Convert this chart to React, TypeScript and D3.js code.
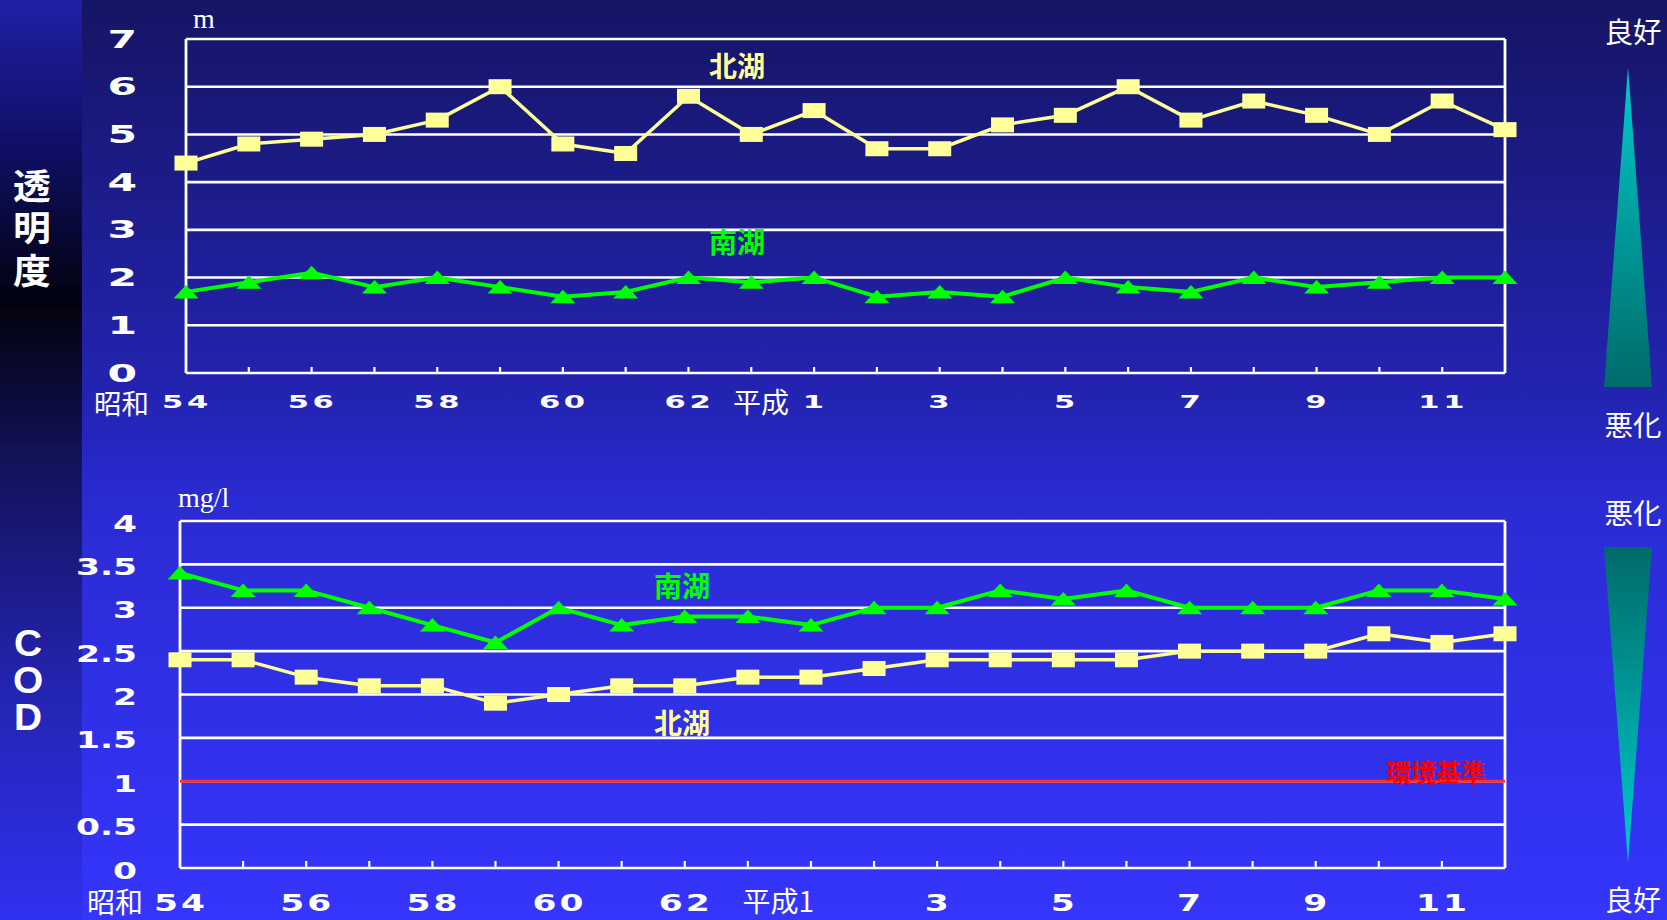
import React from "react";
import * as d3 from "d3";

// ---- data ----
const categories = [
  "S54", "S55", "S56", "S57", "S58", "S59", "S60", "S61", "S62", "S63",
  "H1", "H2", "H3", "H4", "H5", "H6", "H7", "H8", "H9", "H10", "H11", "H12",
];
const tickLabels = [
  "54", "", "56", "", "58", "", "60", "", "62", "", "1", "", "3", "", "5", "", "7", "", "9", "", "11", "",
];
const eraLabels = ["昭和", "平成"];
const transparencyNorth = [4.4, 4.8, 4.9, 5.0, 5.3, 6.0, 4.8, 4.6, 5.8, 5.0, 5.5, 4.7, 4.7, 5.2, 5.4, 6.0, 5.3, 5.7, 5.4, 5.0, 5.7, 5.1];
const transparencySouth = [1.7, 1.9, 2.1, 1.8, 2.0, 1.8, 1.6, 1.7, 2.0, 1.9, 2.0, 1.6, 1.7, 1.6, 2.0, 1.8, 1.7, 2.0, 1.8, 1.9, 2.0, 2.0];
const codSouth = [3.4, 3.2, 3.2, 3.0, 2.8, 2.6, 3.0, 2.8, 2.9, 2.9, 2.8, 3.0, 3.0, 3.2, 3.1, 3.2, 3.0, 3.0, 3.0, 3.2, 3.2, 3.1];
const codNorth = [2.4, 2.4, 2.2, 2.1, 2.1, 1.9, 2.0, 2.1, 2.1, 2.2, 2.2, 2.3, 2.4, 2.4, 2.4, 2.4, 2.5, 2.5, 2.5, 2.7, 2.6, 2.7];
const transparencyTicks = [0, 1, 2, 3, 4, 5, 6, 7];
const codTicks = [0, 0.5, 1, 1.5, 2, 2.5, 3, 3.5, 4];
const codStandard = [1];

function WText(props: {
  x: number; y: number; sx: number; anchor?: string; size: number; fill?: string;
  weight?: string | number; family?: string; ls?: number; children: React.ReactNode;
}) {
  const digitFont = "'DejaVu Sans', 'Liberation Sans', sans-serif";
  const { x, y, sx, anchor = "middle", size, fill = "#ffffff", weight = "bold", family = digitFont, ls = 0 } = props;
  return (
    <text
      transform={`translate(${x},${y}) scale(${sx},1)`}
      textAnchor={anchor}
      fontSize={size}
      fill={fill}
      fontWeight={weight}
      fontFamily={family}
      letterSpacing={ls}
    >
      {props.children}
    </text>
  );
}

function VText(props: { x: number; y: number; text: string; ls: number; size: number; family: string; sx: number }) {
  const { x, y, text, ls, size, family, sx } = props;
  return (
    <text
      transform={`translate(${x},${y}) scale(${sx},1)`}
      x={0}
      y={0}
      fontSize={size}
      fill="#ffffff"
      fontWeight="bold"
      fontFamily={family}
      letterSpacing={ls}
      style={{ writingMode: "vertical-rl", textOrientation: "upright" } as React.CSSProperties}
    >
      {text}
    </text>
  );
}

function Panel(props: {
  x: d3.ScalePoint<string>;
  y: d3.ScaleLinear<number, number>;
  ticks: number[];
  north: number[];
  south: number[];
  tickLen: number;
  standard?: number;
}) {
  const yellow = "#ffff99";
  const green = "#00ff00";
  const { x, y, ticks, north, south, tickLen, standard } = props;
  const [x0, x1] = x.range();
  const [yb, yt] = y.range();
  const line = d3
    .line<number>()
    .x((_, i) => x(categories[i]) as number)
    .y((d) => y(d));
  return (
    <g>
      {ticks.map((t) => (
        <line key={t} x1={x0} x2={x1} y1={y(t)} y2={y(t)} stroke="#ffffff" strokeWidth={2.6} />
      ))}
      <line x1={x0} x2={x0} y1={yt} y2={yb} stroke="#ffffff" strokeWidth={2.8} />
      <line x1={x1} x2={x1} y1={yt} y2={yb} stroke="#ffffff" strokeWidth={2.8} />
      {categories.map((c, i) =>
        i > 0 && i < categories.length - 1 ? (
          <line key={c} x1={x(c)} x2={x(c)} y1={yb} y2={yb - tickLen} stroke="#ffffff" strokeWidth={2.2} />
        ) : null
      )}
      {standard !== undefined && (
        <line x1={x0} x2={x1} y1={y(standard)} y2={y(standard)} stroke="#f03535" strokeWidth={3} />
      )}
      <path d={line(north) || ""} fill="none" stroke={yellow} strokeWidth={3.5} strokeLinejoin="round" />
      <path d={line(south) || ""} fill="none" stroke={green} strokeWidth={4} strokeLinejoin="round" />
      {north.map((v, i) => (
        <rect
          key={"n" + i}
          x={(x(categories[i]) as number) - 11.5}
          y={y(v) - 7.5}
          width={23}
          height={15}
          fill={yellow}
        />
      ))}
      {south.map((v, i) => {
        const cx = x(categories[i]) as number;
        const cy = y(v);
        return (
          <path
            key={"s" + i}
            d={`M${cx},${cy - 7} L${cx + 12.5},${cy + 6.5} L${cx - 12.5},${cy + 6.5} Z`}
            fill={green}
          />
        );
      })}
    </g>
  );
}

export default function App() {
  const width = 1667;
  const height = 920;
  const yellow = "#ffff99";
  const green = "#00ff00";
  const cjk = "'Noto Sans CJK JP', 'Noto Sans CJK SC', sans-serif";
  const serif = "'Liberation Serif', 'DejaVu Serif', serif";

  const xTop = d3.scalePoint<string>().domain(categories).range([186, 1505]);
  const yTop = d3.scaleLinear().domain([0, 7]).range([373, 39]);
  const xBot = d3.scalePoint<string>().domain(categories).range([180, 1505]);
  const yBot = d3.scaleLinear().domain([0, 4]).range([868, 521]);
  const std = codStandard[0];
  const heiseiIndex = 10;

  return (
    <svg
      width={width}
      height={height}
      style={{ position: "absolute", left: 0, top: 0, display: "block" }}
    >
      <defs>
        <linearGradient id="bg" x1="0" y1="0" x2="0" y2="1">
          <stop offset="0" stopColor="#151565" />
          <stop offset="0.45" stopColor="#2424b6" />
          <stop offset="0.55" stopColor="#2b2bd4" />
          <stop offset="1" stopColor="#3535fc" />
        </linearGradient>
        <linearGradient id="strip" x1="0" y1="0" x2="0" y2="1">
          <stop offset="0" stopColor="#2020a6" />
          <stop offset="0.15" stopColor="#10106a" />
          <stop offset="0.33" stopColor="#02020e" />
          <stop offset="0.5" stopColor="#12125a" />
          <stop offset="0.75" stopColor="#2424b2" />
          <stop offset="1" stopColor="#3030f0" />
        </linearGradient>
        <linearGradient id="triUp" x1="0" y1="0" x2="0" y2="1">
          <stop offset="0" stopColor="#00cccc" />
          <stop offset="0.45" stopColor="#00a0a0" />
          <stop offset="1" stopColor="#006a6a" />
        </linearGradient>
        <linearGradient id="triDown" x1="0" y1="0" x2="0" y2="1">
          <stop offset="0" stopColor="#006a6a" />
          <stop offset="0.55" stopColor="#00a0a0" />
          <stop offset="1" stopColor="#00cccc" />
        </linearGradient>
      </defs>
      <rect x={0} y={0} width={width} height={height} fill="url(#bg)" />
      <rect x={0} y={0} width={82} height={height} fill="url(#strip)" />

      {/* left titles */}
      <VText x={32} y={168} text="透明度" ls={7.5} size={35} family={cjk} sx={1.08} />
      <VText x={28} y={623} text="COD" ls={-4} size={37} family="'Liberation Sans', Arial, sans-serif" sx={1.05} />

      {/* top panel */}
      <Panel x={xTop} y={yTop} ticks={transparencyTicks} north={transparencyNorth} south={transparencySouth} tickLen={6} />
      {transparencyTicks.map((t) => (
        <WText key={t} x={137} y={yTop(t) + 8.5} sx={1.7} anchor="end" size={25}>
          {String(t)}
        </WText>
      ))}
      {tickLabels.map((l, i) =>
        l ? (
          <WText key={i} x={(xTop(categories[i]) as number) + 1} y={407.5} sx={1.8} size={17} ls={2}>
            {l}
          </WText>
        ) : null
      )}
      <WText x={149} y={414} sx={1} anchor="end" size={27.5} weight="normal" family={cjk}>{eraLabels[0]}</WText>
      <WText x={789} y={413} sx={1} anchor="end" size={28} weight="normal" family={cjk}>{eraLabels[1]}</WText>
      <text x={193} y={28} fontSize={28} fill="#ffffff" fontFamily={serif}>m</text>
      <WText x={737} y={76.5} sx={1} size={28} fill={yellow} family={cjk}>北湖</WText>
      <WText x={737} y={252.5} sx={1} size={28} fill={green} family={cjk}>南湖</WText>

      {/* bottom panel */}
      <Panel x={xBot} y={yBot} ticks={codTicks} north={codNorth} south={codSouth} tickLen={7} standard={std} />
      {codTicks.map((t) => (
        <WText key={t} x={137} y={yBot(t) + 10.5} sx={1.5} anchor="end" size={23}>
          {String(t)}
        </WText>
      ))}
      {tickLabels.map((l, i) =>
        l && i !== heiseiIndex ? (
          <WText key={i} x={(xBot(categories[i]) as number) + 1} y={911} sx={1.5} size={23} ls={2}>
            {l}
          </WText>
        ) : null
      )}
      <WText x={143} y={913} sx={1} anchor="end" size={28} weight="normal" family={cjk}>{eraLabels[0]}</WText>
      <WText
        x={(xBot(categories[heiseiIndex]) as number) + 3}
        y={912}
        sx={1}
        anchor="end"
        size={28}
        weight="normal"
        family={cjk}
      >
        {eraLabels[1] + tickLabels[heiseiIndex]}
      </WText>
      <text x={178} y={507} fontSize={28} fill="#ffffff" fontFamily={serif}>mg/l</text>
      <WText x={682} y={596.5} sx={1} size={28} fill={green} family={cjk}>南湖</WText>
      <WText x={682} y={733.5} sx={1} size={28} fill={yellow} family={cjk}>北湖</WText>
      <WText x={1486} y={yBot(std) + 1} sx={1} anchor="end" size={25} fill="#ff0000" family={cjk}>環境基準</WText>

      {/* right-hand indicators */}
      <WText x={1633} y={43} sx={1} size={28.5} weight="normal" family={cjk}>良好</WText>
      <path d="M1628,67 L1652,387 L1604,387 Z" fill="url(#triUp)" />
      <WText x={1633} y={436} sx={1} size={28.5} weight="normal" family={cjk}>悪化</WText>
      <WText x={1633} y={524} sx={1} size={28.5} weight="normal" family={cjk}>悪化</WText>
      <path d="M1604,547 L1652,547 L1628,863 Z" fill="url(#triDown)" />
      <WText x={1633} y={911} sx={1} size={28} weight="normal" family={cjk}>良好</WText>
    </svg>
  );
}
